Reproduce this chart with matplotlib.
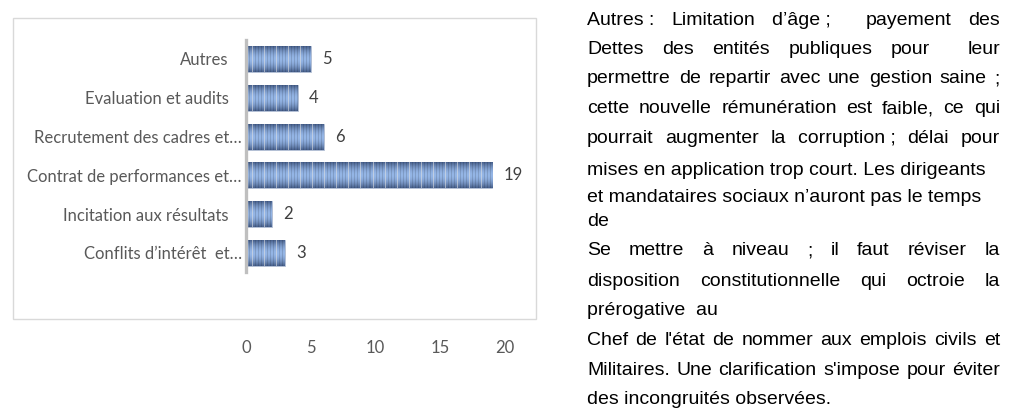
import numpy as np
import matplotlib
matplotlib.use("Agg")
import matplotlib.pyplot as plt
from matplotlib.patches import Rectangle

# ---------------- data ----------------
categories = ["Conflits d’intérêt  et…", "Incitation aux résultats",
              "Contrat de performances et…", "Recrutement des cadres et…",
              "Evaluation et audits", "Autres"]
values = [3, 2, 19, 6, 4, 5]
x_ticks = [0, 5, 10, 15, 20]

text_lines = [
    "Autres\u00a0: Limitation d’âge\u00a0;  payement des",
    "Dettes des entités publiques pour  leur",
    "permettre de repartir avec une gestion saine ;",
    "cette nouvelle rémunération est faible, ce qui",
    "pourrait augmenter la corruption\u00a0; délai pour",
    "mises en application trop court. Les dirigeants",
    "et mandataires sociaux n’auront pas le temps",
    "de",
    "Se mettre à niveau ; il faut réviser la",
    "disposition constitutionnelle qui octroie la",
    "prérogative  au",
    "Chef de l'état de nommer aux emplois civils et",
    "Militaires. Une clarification s'impose pour éviter",
    "des incongruités observées.",
]
justified = [True, True, True, True, True, False, False, False,
             True, True, False, True, True, False]

# ---------------- layout (pixels) ----------------
W, H = 1024, 420
fig = plt.figure(figsize=(W / 100, H / 100), dpi=100)
fig.patch.set_facecolor("white")

def fx(px):
    return px / W

def fy(py):
    return 1 - py / H

ax_left, ax_right, ax_top, ax_bot = 246, 505, 39.6, 272.4
ax = fig.add_axes([fx(ax_left), fy(ax_bot), (ax_right - ax_left) / W, (ax_bot - ax_top) / H])
ax.set_facecolor("none")

chart_font = "Lato"
gray = "#595959"
fs = 12

ypos = np.arange(len(categories))
bars = ax.barh(ypos, values, height=0.67, color="#6f8fc0",
               edgecolor="#b4c0d4", linewidth=0.6, zorder=2)

# textured fill for bars
dark = np.array([0x4a, 0x63, 0x8f]) / 255
light = np.array([0x95, 0xb6, 0xe6]) / 255
for b in bars:
    x0, y0, w, h = b.get_x(), b.get_y(), b.get_width(), b.get_height()
    ncols = max(int(round(w * 12.95)), 1)
    nrows = 26
    t = np.linspace(-1, 1, nrows)
    prof = 1 - np.abs(t) ** 1.8
    base = dark[None, :] + (light - dark)[None, :] * prof[:, None]
    img = np.repeat(base[:, None, :], ncols, axis=1)
    cols = np.arange(ncols)
    fac = np.ones(ncols)
    fac[cols % 3 == 0] = 0.87
    img = img * fac[None, :, None]
    white_cols = (cols % 12 == 6)
    img[:, white_cols, :] = img[:, white_cols, :] * 0.5 + 0.5
    img = np.clip(img, 0, 1)
    im = ax.imshow(img, extent=(x0, x0 + w, y0, y0 + h), aspect="auto",
                   interpolation="nearest", zorder=3, origin="upper")
    im.set_clip_path(b)

ax.set_xlim(0, 20)
ax.set_ylim(-0.5, 5.5)

for s in ["top", "right", "bottom"]:
    ax.spines[s].set_visible(False)
ax.spines["left"].set_color("#bfbfbf")
ax.spines["left"].set_linewidth(2.4)
ax.spines["left"].set_zorder(5)

ax.set_yticks(ypos)
ax.set_yticklabels(categories, fontfamily=chart_font, fontsize=fs, color=gray)
ax.tick_params(axis="y", length=0)
label_pads = [3, 12.5, 3, 3, 12.5, 12.5]
for tk, p in zip(ax.yaxis.get_major_ticks(), label_pads):
    tk.set_pad(p)

ax.set_xticks(x_ticks)
ax.set_xticklabels([str(v) for v in x_ticks], fontfamily=chart_font, fontsize=fs, color=gray)
ax.tick_params(axis="x", length=0, pad=49)

ax.bar_label(bars, labels=[str(v) for v in values], padding=8,
             fontfamily=chart_font, fontsize=fs, color="#404040")

# chart border
fig.add_artist(Rectangle((fx(13), fy(319)), (536 - 13) / W, (319 - 18) / H,
                         transform=fig.transFigure, fill=False,
                         edgecolor="#d9d9d9", linewidth=1.0))

# ---------------- right-hand text ----------------
baselines = [25, 54, 83, 113, 143, 175, 202, 226, 255, 286, 315, 345, 375, 404]
tx_left, tx_right = 587, 1000
fkw = dict(fontfamily="Liberation Sans", fontsize=14, color="black", va="baseline", ha="left")
renderer = fig.canvas.get_renderer()
for line, just, yb in zip(text_lines, justified, baselines):
    if not just:
        fig.text(fx(tx_left), fy(yb), line, **fkw)
        continue
    tokens = line.split(" ")
    arts = [fig.text(0, fy(yb), tok, **fkw) for tok in tokens]
    widths = [a.get_window_extent(renderer).width if tok else 0.0
              for a, tok in zip(arts, tokens)]
    gap = (tx_right - tx_left - sum(widths)) / max(len(tokens) - 1, 1)
    xcur = tx_left
    for a, wdt in zip(arts, widths):
        a.set_x(fx(xcur))
        xcur += wdt + gap

fig.savefig("out.png", dpi=100, facecolor="white")
